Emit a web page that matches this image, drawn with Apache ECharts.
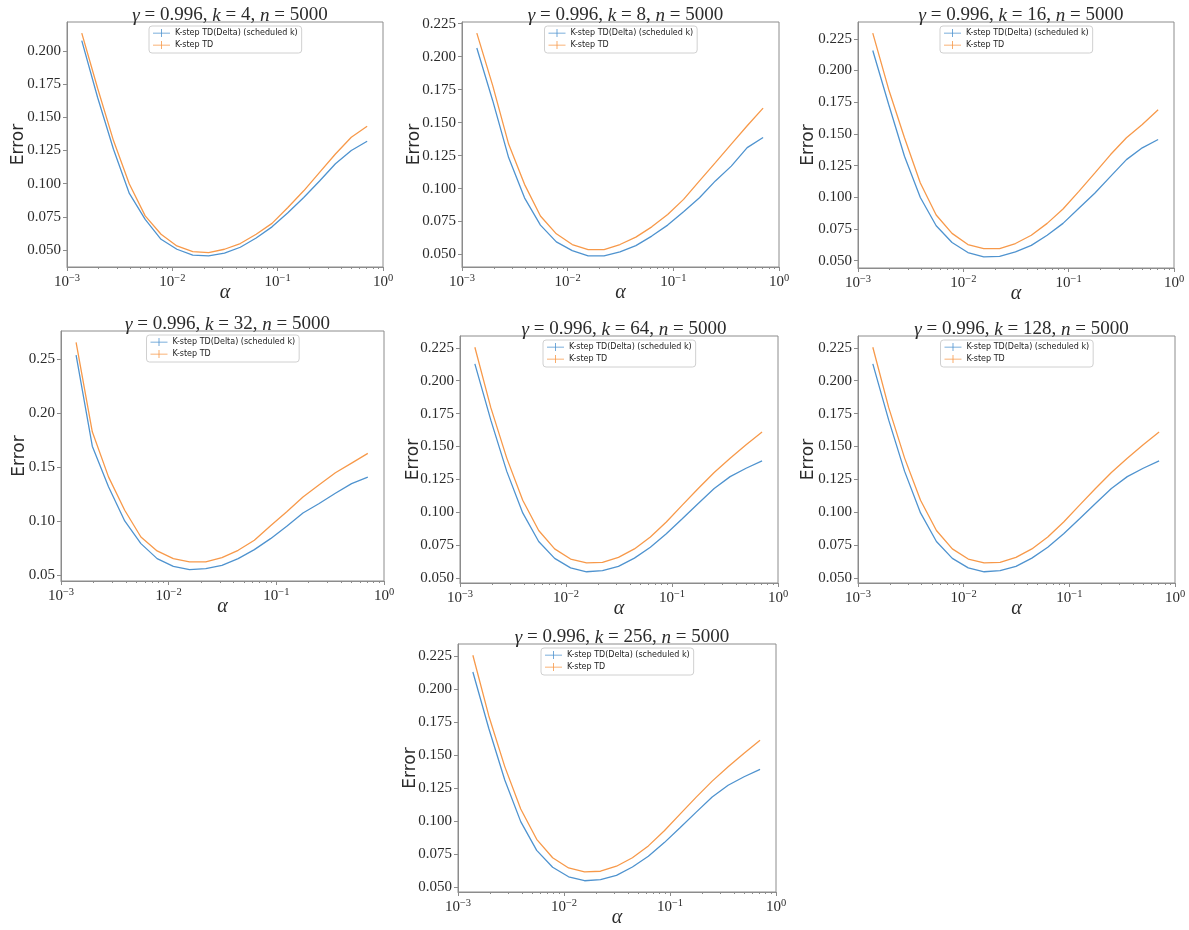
<!DOCTYPE html>
<html>
<head>
<meta charset="utf-8">
<script src="https://cdn.jsdelivr.net/npm/echarts@6/dist/echarts.min.js"></script>
<style>html,body{margin:0;padding:0;background:#fff}#c{width:1189px;height:930px}</style>
</head>
<body>
<div id="c"></div>
<script>
// ---- data ----
const alpha = [0.0013811, 0.0019531, 0.0027621, 0.0039063, 0.0055243, 0.0078125, 0.0110485, 0.015625, 0.0220971, 0.03125, 0.0441942, 0.0625, 0.0883883, 0.125, 0.1767767, 0.25, 0.3535534, 0.5, 0.7071068];
const kValues = [4, 8, 16, 32, 64, 128, 256];
const seriesNames = ['K-step TD(Delta) (scheduled k)', 'K-step TD'];

const k4Delta = [0.208, 0.165, 0.126, 0.0926, 0.073, 0.058, 0.0505, 0.046, 0.0455, 0.0475, 0.052, 0.059, 0.0674, 0.078, 0.0896, 0.102, 0.115, 0.125, 0.132];
const k4TD    = [0.2136, 0.172, 0.1325, 0.0997, 0.0757, 0.0618, 0.053, 0.0487, 0.048, 0.0505, 0.0548, 0.0618, 0.070, 0.082, 0.0946, 0.1085, 0.1224, 0.135, 0.1433];
const k8Delta = [0.2065, 0.1666, 0.1235, 0.093, 0.0723, 0.0596, 0.053, 0.049, 0.049, 0.052, 0.0568, 0.064, 0.0723, 0.0825, 0.093, 0.1058, 0.117, 0.131, 0.1387];
const k8TD    = [0.2178, 0.178, 0.1337, 0.1032, 0.0792, 0.0657, 0.0576, 0.0538, 0.0538, 0.0576, 0.0632, 0.071, 0.0804, 0.0918, 0.1058, 0.1197, 0.1337, 0.1476, 0.161];
const k16Delta = [0.2158, 0.1734, 0.1324, 0.0998, 0.0775, 0.0643, 0.0564, 0.053, 0.0534, 0.0569, 0.062, 0.070, 0.0794, 0.0913, 0.1032, 0.1165, 0.1297, 0.139, 0.1456];
const k16TD    = [0.2295, 0.1853, 0.147, 0.1112, 0.086, 0.0715, 0.0627, 0.0595, 0.0595, 0.0635, 0.070, 0.0794, 0.0907, 0.1046, 0.119, 0.1337, 0.147, 0.1575, 0.169];
const k32Delta = [0.254, 0.1696, 0.132, 0.1004, 0.0794, 0.0655, 0.0583, 0.0553, 0.0562, 0.0593, 0.0655, 0.0738, 0.084, 0.0955, 0.1078, 0.1165, 0.126, 0.135, 0.141];
const k32TD    = [0.2658, 0.183, 0.1412, 0.1103, 0.0855, 0.0726, 0.0655, 0.0624, 0.0624, 0.0664, 0.0732, 0.0825, 0.096, 0.109, 0.1226, 0.134, 0.145, 0.154, 0.163];
const k64Delta = [0.2128, 0.170, 0.131, 0.0994, 0.0776, 0.0648, 0.0576, 0.0546, 0.0554, 0.0587, 0.065, 0.0732, 0.0835, 0.095, 0.1066, 0.118, 0.127, 0.1334, 0.139];
const k64TD    = [0.2255, 0.1795, 0.1411, 0.109, 0.086, 0.072, 0.0643, 0.0613, 0.0618, 0.0656, 0.072, 0.081, 0.0925, 0.1053, 0.118, 0.1301, 0.141, 0.1513, 0.161];
const k128Delta = [0.2128, 0.170, 0.131, 0.0994, 0.0776, 0.0648, 0.0576, 0.0546, 0.0554, 0.0587, 0.065, 0.0732, 0.0835, 0.095, 0.1066, 0.118, 0.127, 0.1334, 0.139];
const k128TD    = [0.2255, 0.1795, 0.1411, 0.109, 0.086, 0.072, 0.0643, 0.0613, 0.0618, 0.0656, 0.072, 0.081, 0.0925, 0.1053, 0.118, 0.1301, 0.141, 0.1513, 0.161];
const k256Delta = [0.2128, 0.170, 0.131, 0.0994, 0.0776, 0.0648, 0.0576, 0.0546, 0.0554, 0.0587, 0.065, 0.0732, 0.0835, 0.095, 0.1066, 0.118, 0.127, 0.1334, 0.139];
const k256TD    = [0.2255, 0.1795, 0.1411, 0.109, 0.086, 0.072, 0.0643, 0.0613, 0.0618, 0.0656, 0.072, 0.081, 0.0925, 0.1053, 0.118, 0.1301, 0.141, 0.1513, 0.161];

const yTicksK4   = [0.050, 0.075, 0.100, 0.125, 0.150, 0.175, 0.200];
const yTicks225  = [0.050, 0.075, 0.100, 0.125, 0.150, 0.175, 0.200, 0.225];
const yTicksK32  = [0.05, 0.10, 0.15, 0.20, 0.25];
const xMinorTicks = [0.002, 0.003, 0.004, 0.005, 0.006, 0.007, 0.008, 0.009, 0.02, 0.03, 0.04, 0.05, 0.06, 0.07, 0.08, 0.09, 0.2, 0.3, 0.4, 0.5, 0.6, 0.7, 0.8, 0.9];

const panelData = [
  {k: kValues[0], delta: k4Delta, td: k4TD, ticks: yTicksK4, dec: 3},
  {k: kValues[1], delta: k8Delta, td: k8TD, ticks: yTicks225, dec: 3},
  {k: kValues[2], delta: k16Delta, td: k16TD, ticks: yTicks225, dec: 3},
  {k: kValues[3], delta: k32Delta, td: k32TD, ticks: yTicksK32, dec: 2},
  {k: kValues[4], delta: k64Delta, td: k64TD, ticks: yTicks225, dec: 3},
  {k: kValues[5], delta: k128Delta, td: k128TD, ticks: yTicks225, dec: 3},
  {k: kValues[6], delta: k256Delta, td: k256TD, ticks: yTicks225, dec: 3}
];

// ---- layout (plot boxes in px, y-name gap) ----
const boxes = [
  [67, 22, 383, 267, 40],
  [462, 22, 779, 267, 39],
  [858, 22, 1174, 268, 41],
  [61, 331, 384, 581, 33],
  [460, 336, 778, 583, 38],
  [858, 336, 1175, 583, 41],
  [458, 644, 776, 892, 39]
];

const BLUE = '#4f93cf';
const ORANGE = '#f7994a';
const AXIS = '#8c8c8c';
const TXT = '#2b2b2b';
const SERIF = 'Liberation Serif';

const grids = [], xAxes = [], yAxes = [], series = [], titles = [], legends = [];

panelData.forEach((p, i) => {
  const [x0, y0, x1, y1, yGap] = boxes[i];
  const w = x1 - x0, h = y1 - y0, cx = (x0 + x1) / 2;
  grids.push({left: x0, top: y0, width: w, height: h, show: true, borderColor: AXIS, borderWidth: 1, backgroundColor: '#fff'});

  xAxes.push({
    type: 'log', logBase: 10, gridIndex: i, min: 0.001, max: 1, position: 'bottom',
    name: 'α', nameLocation: 'middle', nameGap: 16, nameMoveOverlap: false,
    nameTextStyle: {fontFamily: SERIF, fontStyle: 'italic', fontSize: 20, color: TXT},
    axisLine: {show: true, lineStyle: {color: AXIS, width: 1}},
    axisTick: {show: true, length: 4, lineStyle: {color: AXIS}},
    splitLine: {show: false}, minorTick: {show: false},
    axisLabel: {
      margin: 6,
      formatter: v => {
        const e = Math.round(Math.log10(v));
        return '{b|10}{s|' + (e < 0 ? '−' + (-e) : e) + '}';
      },
      rich: {
        b: {fontFamily: SERIF, fontSize: 15, color: TXT},
        s: {fontFamily: SERIF, fontSize: 10.5, color: TXT, padding: [0, 0, 7, 0], verticalAlign: 'bottom'}
      }
    }
  });
  xAxes.push({
    type: 'log', logBase: 10, gridIndex: i, min: 0.001, max: 1, position: 'bottom',
    axisLine: {show: false}, axisLabel: {show: false}, splitLine: {show: false},
    axisTick: {show: true, length: 2, customValues: xMinorTicks, lineStyle: {color: AXIS}}
  });

  const all = p.delta.concat(p.td);
  const mn = Math.min(...all), mx = Math.max(...all);
  const pad = (mx - mn) * 0.05;
  yAxes.push({
    type: 'value', gridIndex: i, min: mn - pad, max: mx + pad,
    name: 'Error', nameLocation: 'middle', nameGap: yGap, nameRotate: 90, nameMoveOverlap: false,
    nameTextStyle: {fontFamily: 'DejaVu Sans', fontSize: 17, color: TXT},
    axisLine: {show: true, lineStyle: {color: AXIS, width: 1}},
    axisTick: {show: true, length: 4, customValues: p.ticks, lineStyle: {color: AXIS}},
    splitLine: {show: false},
    axisLabel: {customValues: p.ticks, margin: 6, fontFamily: SERIF, fontSize: 15, color: TXT,
      formatter: v => v.toFixed(p.dec)}
  });

  series.push({
    type: 'line', name: seriesNames[0], xAxisIndex: 2 * i, yAxisIndex: i,
    data: alpha.map((a, j) => [a, p.delta[j]]),
    showSymbol: false, lineStyle: {color: BLUE, width: 1.3}, itemStyle: {color: BLUE},
    silent: true, animation: false, z: 3
  });
  series.push({
    type: 'line', name: seriesNames[1], xAxisIndex: 2 * i, yAxisIndex: i,
    data: alpha.map((a, j) => [a, p.td[j]]),
    showSymbol: false, lineStyle: {color: ORANGE, width: 1.3}, itemStyle: {color: ORANGE},
    silent: true, animation: false, z: 2
  });

  titles.push({
    text: '{i|γ}{r| = 0.996, }{i|k}{r| = ' + p.k + ', }{i|n}{r| = 5000}',
    left: cx, top: y0 - 21, textAlign: 'center',
    textStyle: {
      fontWeight: 'normal',
      rich: {
        i: {fontFamily: SERIF, fontStyle: 'italic', fontWeight: 'normal', fontSize: 19, color: TXT},
        r: {fontFamily: SERIF, fontWeight: 'normal', fontSize: 19, color: TXT}
      }
    }
  });

  legends.push({
    data: seriesNames, orient: 'vertical', left: cx - 76, top: y0 + 4,
    itemWidth: 17, itemHeight: 8, itemGap: 4, padding: [3, 4, 4, 4],
    icon: 'path://M0,7.5h34v1.6h-34z M16.2,0h1.6v16h-1.6z',
    borderColor: '#d0d0d0', borderWidth: 1, borderRadius: 3, backgroundColor: '#fff',
    textStyle: {fontFamily: 'DejaVu Sans', fontSize: 8, color: '#222'},
    selectedMode: false
  });
});

const chart = echarts.init(document.getElementById('c'), null, {renderer: 'canvas'});
chart.setOption({
  backgroundColor: '#fff',
  animation: false,
  title: titles,
  legend: legends,
  grid: grids,
  xAxis: xAxes,
  yAxis: yAxes,
  series: series
});
</script>
</body>
</html>
